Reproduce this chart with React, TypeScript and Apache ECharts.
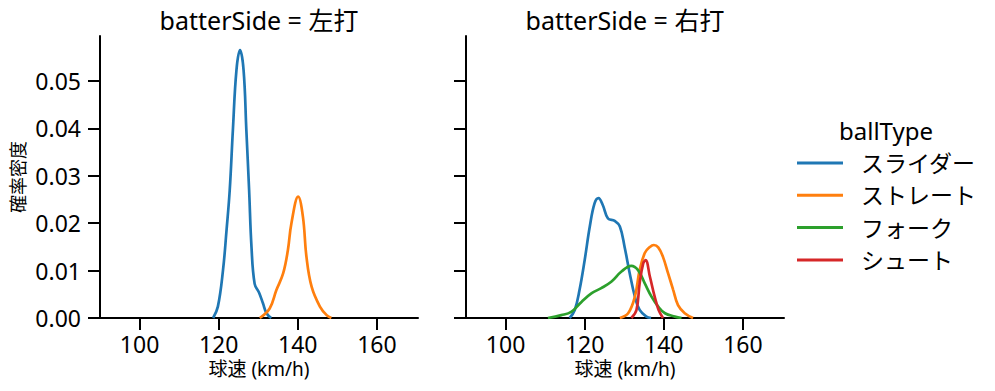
import React, { useEffect, useRef } from "react";
import * as echarts from "echarts";

const panels = ["左打", "右打"];
const ballTypes = ["スライダー", "ストレート", "フォーク", "シュート"];
const colors = ["#1f77b4", "#ff7f0e", "#2ca02c", "#d62728"];
const xTicks = [100, 120, 140, 160];
const yTicks = [0, 0.01, 0.02, 0.03, 0.04, 0.05];

// left panel (左打)
const leftSlider: [number, number][] = [
  [118.6, 0], [119.8, 0.0024], [121.1, 0.0101], [122.0, 0.0186], [122.8, 0.027],
  [123.6, 0.0397], [124.5, 0.0523], [125.4, 0.0565], [126.3, 0.0523], [127.0, 0.0397],
  [127.7, 0.027], [128.3, 0.015], [129.1, 0.0072], [130.2, 0.0054], [131.2, 0.0031],
  [132.1, 0.001], [133.3, 0],
];
const leftStraight: [number, number][] = [
  [130.4, 0], [132.9, 0.002], [134.6, 0.0059], [136.3, 0.0094], [137.5, 0.0143],
  [138.4, 0.02], [140.1, 0.0256], [141.3, 0.0214], [142.2, 0.0129], [143.5, 0.0066],
  [145.6, 0.0024], [147.3, 0.0006], [148.5, 0],
];

// right panel (右打)
const rightSlider: [number, number][] = [
  [116.2, 0], [117.5, 0.0017], [118.7, 0.0059], [120.0, 0.0122], [121.3, 0.0193],
  [122.5, 0.0242], [123.5, 0.0253], [124.6, 0.0238], [125.9, 0.021], [127.6, 0.0205],
  [128.9, 0.0193], [130.1, 0.015], [131.4, 0.0094], [132.7, 0.0045], [133.9, 0.0017],
  [135.6, 0.0003], [136.8, 0],
];
const rightStraight: [number, number][] = [
  [128.9, 0], [131.0, 0.001], [132.7, 0.0045], [133.9, 0.0101], [135.2, 0.0137],
  [136.5, 0.015], [137.5, 0.0154], [138.6, 0.0149], [139.8, 0.0129], [141.1, 0.0094],
  [142.4, 0.0059], [143.6, 0.0027], [145.3, 0.001], [147.4, 0],
];
const rightFork: [number, number][] = [
  [110.7, 0], [114.1, 0.0006], [116.6, 0.0013], [119.2, 0.0034], [121.7, 0.0052],
  [124.2, 0.0063], [126.8, 0.0077], [129.3, 0.0098], [131.8, 0.011], [133.5, 0.0101],
  [135.2, 0.0073], [136.9, 0.0045], [138.6, 0.0024], [140.3, 0.001], [142.8, 0.0003],
  [144.5, 0],
];
const rightShoot: [number, number][] = [
  [131.8, 0], [133.1, 0.0017], [133.9, 0.0073], [134.8, 0.0115], [135.4, 0.0122],
  [136.5, 0.0087], [137.7, 0.0045], [138.7, 0.0017], [139.8, 0],
];

const panelData: ([number, number][] | null)[][] = [
  [leftSlider, leftStraight, null, null],
  [rightSlider, rightStraight, rightFork, rightShoot],
];

const FONT = "'Noto Sans', 'Noto Sans CJK JP', sans-serif";

export default function App() {
  const ref = useRef<HTMLDivElement>(null);
  useEffect(() => {
    if (!ref.current) return;
    const chart = echarts.init(ref.current, null, { renderer: "svg" });
    const gridLefts = [100, 466];
    const grids = gridLefts.map((l) => ({ left: l, top: 36, width: 318, height: 282 }));
    const tickStyle = { color: "#000", width: 2 };
    const xAxes = gridLefts.map((_, i) => ({
      type: "value",
      gridIndex: i,
      min: 90,
      max: 170.4,
      name: "球速 (km/h)",
      nameLocation: "middle",
      nameGap: 40,
      nameTextStyle: { fontSize: 19, color: "#000", fontFamily: FONT },
      axisLine: { lineStyle: { color: "#000", width: 2 } },
      axisTick: { show: true, length: 12, lineStyle: tickStyle, customValues: xTicks },
      axisLabel: { fontSize: 23, color: "#000", margin: 14, fontFamily: FONT, customValues: xTicks },
      splitLine: { show: false },
    }));
    const yAxes = gridLefts.map((_, i) => ({
      type: "value",
      gridIndex: i,
      min: 0,
      max: 0.0595,
      name: i === 0 ? "確率密度" : "",
      nameLocation: "middle",
      nameGap: 73,
      nameTextStyle: { fontSize: 18, color: "#000", fontFamily: FONT },
      axisLine: { show: true, lineStyle: { color: "#000", width: 2 } },
      axisTick: { show: true, length: 12, lineStyle: tickStyle, customValues: yTicks },
      axisLabel: {
        show: i === 0,
        fontSize: 23,
        color: "#000",
        margin: 19,
        fontFamily: FONT,
        customValues: yTicks,
        formatter: (v: number) => v.toFixed(2),
      },
      splitLine: { show: false },
    }));
    const series: any[] = [];
    panelData.forEach((arr, pi) => {
      arr.forEach((d, bi) => {
        if (!d) return;
        series.push({
          type: "line",
          name: ballTypes[bi],
          xAxisIndex: pi,
          yAxisIndex: pi,
          data: d,
          smooth: 0.4,
          showSymbol: false,
          symbol: "none",
          lineStyle: { color: colors[bi], width: 2.7 },
          itemStyle: { color: colors[bi] },
          z: 2 + bi,
        });
      });
    });
    chart.setOption({
      animation: false,
      backgroundColor: "#fff",
      grid: grids,
      xAxis: xAxes,
      yAxis: yAxes,
      series,
      legend: {
        orient: "vertical",
        left: 797,
        top: 151,
        padding: 0,
        data: ballTypes.map((n, i) => ({ name: n, itemStyle: { color: colors[i] } })),
        icon: "rect",
        itemWidth: 46,
        itemHeight: 3,
        itemGap: 8.3,
        textStyle: { fontSize: 23, color: "#000", fontFamily: FONT, padding: [0, 0, 0, 13], lineHeight: 24 },
        selectedMode: false,
      },
      graphic: [
        ...panels.map((p, i) => ({
          type: "text",
          x: gridLefts[i] + 159,
          y: 20,
          style: {
            text: `batterSide = ${p}`,
            fontSize: 25,
            fontFamily: FONT,
            fill: "#000",
            textAlign: "center",
            textVerticalAlign: "middle",
          },
        })),
        {
          type: "text",
          x: 886,
          y: 130,
          style: {
            text: "ballType",
            fontSize: 24,
            fontFamily: FONT,
            fill: "#000",
            textAlign: "center",
            textVerticalAlign: "middle",
          },
        },
      ],
    });
    return () => chart.dispose();
  }, []);
  return <div ref={ref} style={{ width: 995, height: 391, position: "absolute", left: 0, top: 0 }} />;
}
